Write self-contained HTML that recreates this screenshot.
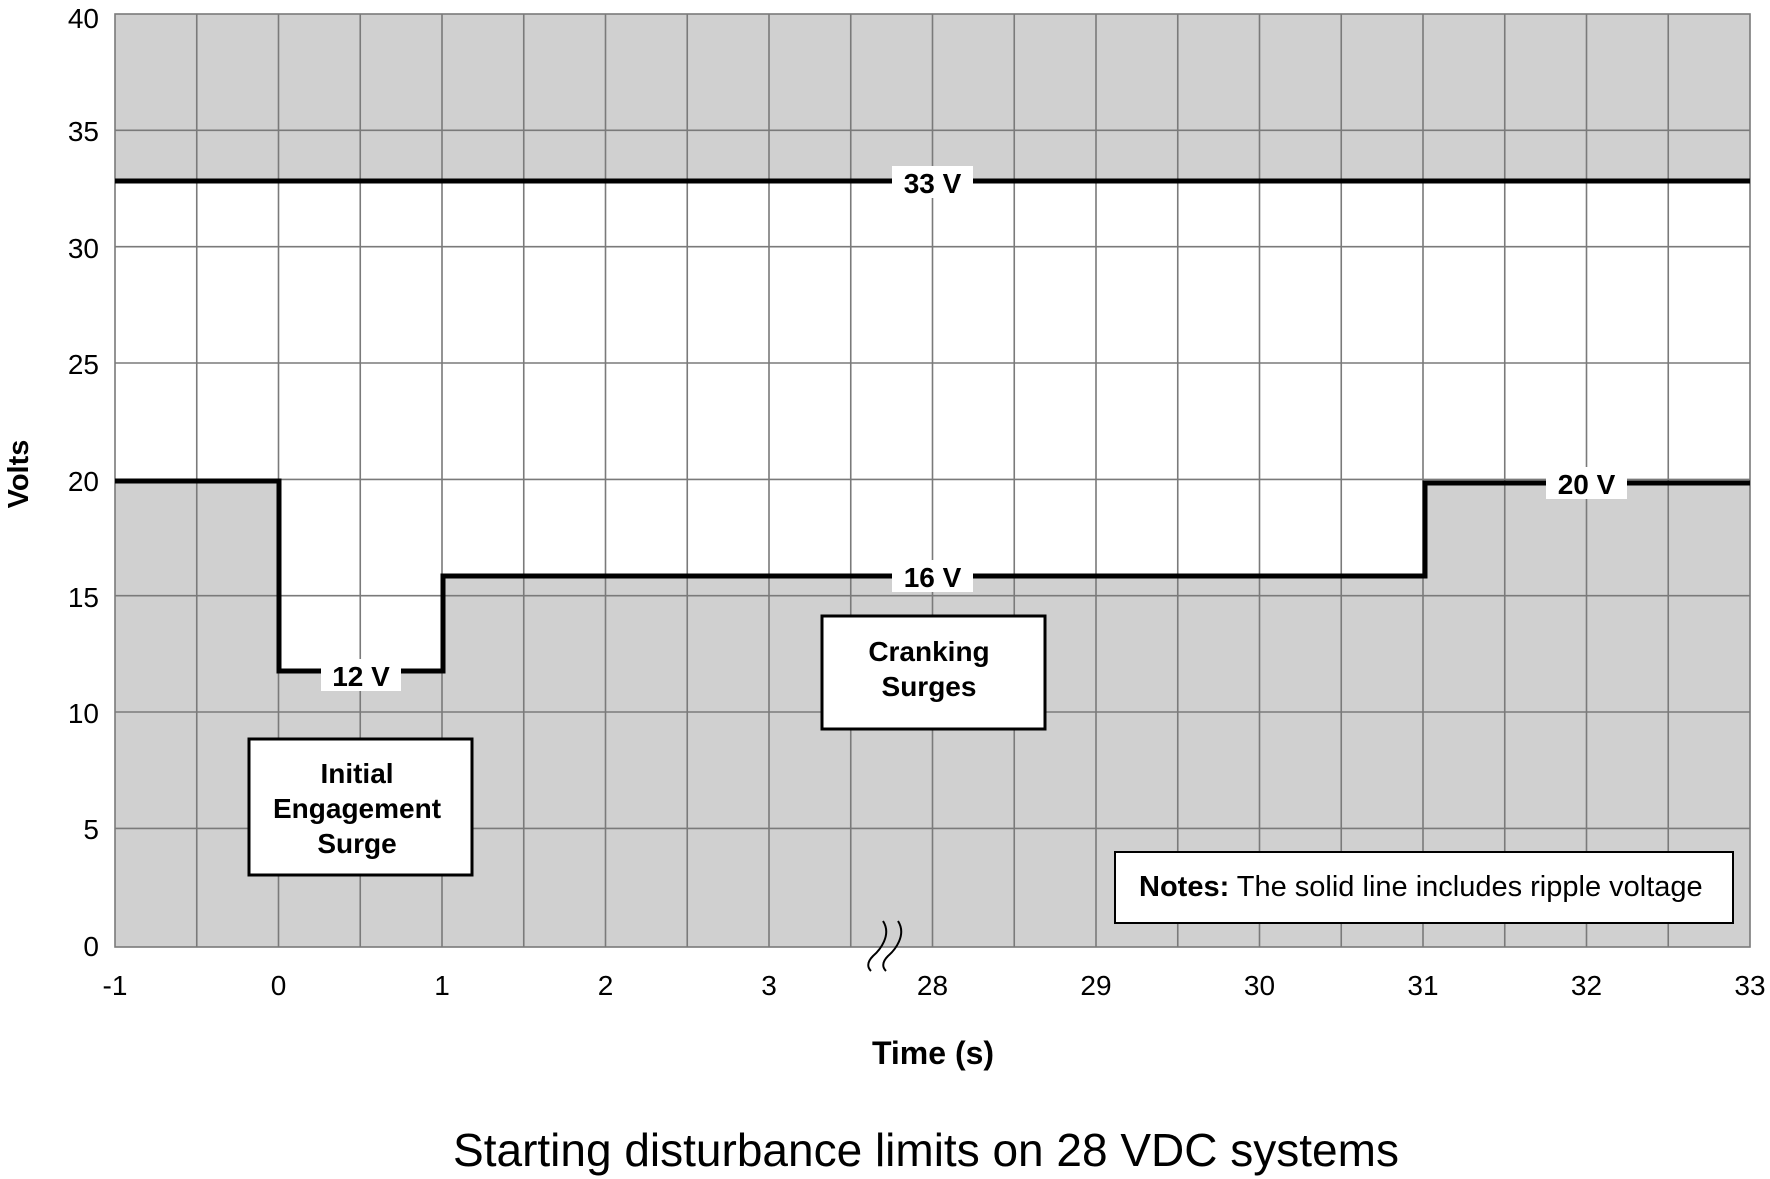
<!DOCTYPE html>
<html><head><meta charset="utf-8"><style>
html,body{margin:0;padding:0;background:#fff;}
svg{display:block;font-family:"Liberation Sans",Arial,sans-serif;}
</style></head><body>
<svg width="1770" height="1179" viewBox="0 0 1770 1179" xmlns="http://www.w3.org/2000/svg">
<rect x="115" y="14" width="1635" height="933" fill="#d0d0d0"/>
<polygon points="115,181 1750,181 1750,483 1425,483 1425,576 443,576 443,671 279,671 279,481 115,481" fill="#fff"/>
<g stroke="#7a7a7a" stroke-width="1.6">
<line x1="115" y1="130.3" x2="1750" y2="130.3"/>
<line x1="115" y1="246.7" x2="1750" y2="246.7"/>
<line x1="115" y1="363" x2="1750" y2="363"/>
<line x1="115" y1="479.4" x2="1750" y2="479.4"/>
<line x1="115" y1="595.7" x2="1750" y2="595.7"/>
<line x1="115" y1="712" x2="1750" y2="712"/>
<line x1="115" y1="828.4" x2="1750" y2="828.4"/>
<line x1="196.75" y1="14" x2="196.75" y2="947"/>
<line x1="278.5" y1="14" x2="278.5" y2="947"/>
<line x1="360.25" y1="14" x2="360.25" y2="947"/>
<line x1="442" y1="14" x2="442" y2="947"/>
<line x1="523.75" y1="14" x2="523.75" y2="947"/>
<line x1="605.5" y1="14" x2="605.5" y2="947"/>
<line x1="687.25" y1="14" x2="687.25" y2="947"/>
<line x1="769" y1="14" x2="769" y2="947"/>
<line x1="850.75" y1="14" x2="850.75" y2="947"/>
<line x1="932.5" y1="14" x2="932.5" y2="947"/>
<line x1="1014.25" y1="14" x2="1014.25" y2="947"/>
<line x1="1096" y1="14" x2="1096" y2="947"/>
<line x1="1177.75" y1="14" x2="1177.75" y2="947"/>
<line x1="1259.5" y1="14" x2="1259.5" y2="947"/>
<line x1="1341.25" y1="14" x2="1341.25" y2="947"/>
<line x1="1423" y1="14" x2="1423" y2="947"/>
<line x1="1504.75" y1="14" x2="1504.75" y2="947"/>
<line x1="1586.5" y1="14" x2="1586.5" y2="947"/>
<line x1="1668.25" y1="14" x2="1668.25" y2="947"/>
<rect x="115" y="14" width="1635" height="933" fill="none"/>
</g>
<g stroke="#000" stroke-width="5" fill="none">
<line x1="115" y1="181" x2="1750" y2="181"/>
<polyline points="115,481 279,481 279,671 443,671 443,576 1425,576 1425,483 1750,483"/>
</g>
<g stroke="#000" stroke-width="2" fill="none">
<path d="M883,921 C892,935 880,950 873,956 C866,963 868,968 871,971"/>
<path d="M898,921 C907,935 895,950 888,956 C881,963 883,968 886,971"/>
</g>
<g font-weight="bold" font-size="28" text-anchor="middle">
<rect x="892" y="166" width="81" height="32" fill="#fff"/><text x="932.5" y="193">33 V</text>
<rect x="321" y="659" width="80" height="32" fill="#fff"/><text x="361" y="686">12 V</text>
<rect x="892" y="560" width="81" height="32" fill="#fff"/><text x="932.5" y="587">16 V</text>
<rect x="1546" y="467" width="81" height="32" fill="#fff"/><text x="1586.5" y="494">20 V</text>
</g>
<g stroke="#000" stroke-width="3" fill="#fff">
<rect x="249" y="739" width="223" height="136"/>
<rect x="822" y="616" width="223" height="113"/>
<rect x="1115" y="852" width="618" height="71" stroke-width="2"/>
</g>
<g font-weight="bold" font-size="28" text-anchor="middle">
<text x="357" y="783">Initial</text>
<text x="357" y="818">Engagement</text>
<text x="357" y="853">Surge</text>
<text x="929" y="661">Cranking</text>
<text x="929" y="696">Surges</text>
</g>
<text x="1139" y="896" font-size="29"><tspan font-weight="bold">Notes:</tspan> The solid line includes ripple voltage</text>
<g font-size="28" text-anchor="end">
<text x="99" y="28">40</text>
<text x="99" y="141">35</text>
<text x="99" y="258">30</text>
<text x="99" y="374">25</text>
<text x="99" y="491">20</text>
<text x="99" y="607">15</text>
<text x="99" y="723">10</text>
<text x="99" y="839">5</text>
<text x="99" y="956">0</text>
</g>
<g font-size="28" text-anchor="middle">
<text x="115" y="995">-1</text>
<text x="278.5" y="995">0</text>
<text x="442" y="995">1</text>
<text x="605.5" y="995">2</text>
<text x="769" y="995">3</text>
<text x="932.5" y="995">28</text>
<text x="1096" y="995">29</text>
<text x="1259.5" y="995">30</text>
<text x="1423" y="995">31</text>
<text x="1586.5" y="995">32</text>
<text x="1750" y="995">33</text>
</g>
<text x="933" y="1064" font-size="32" font-weight="bold" text-anchor="middle">Time (s)</text>
<text transform="translate(28,474) rotate(-90)" font-size="29" font-weight="bold" text-anchor="middle">Volts</text>
<text x="926" y="1166" font-size="46" text-anchor="middle">Starting disturbance limits on 28 VDC systems</text>
</svg>
</body></html>
